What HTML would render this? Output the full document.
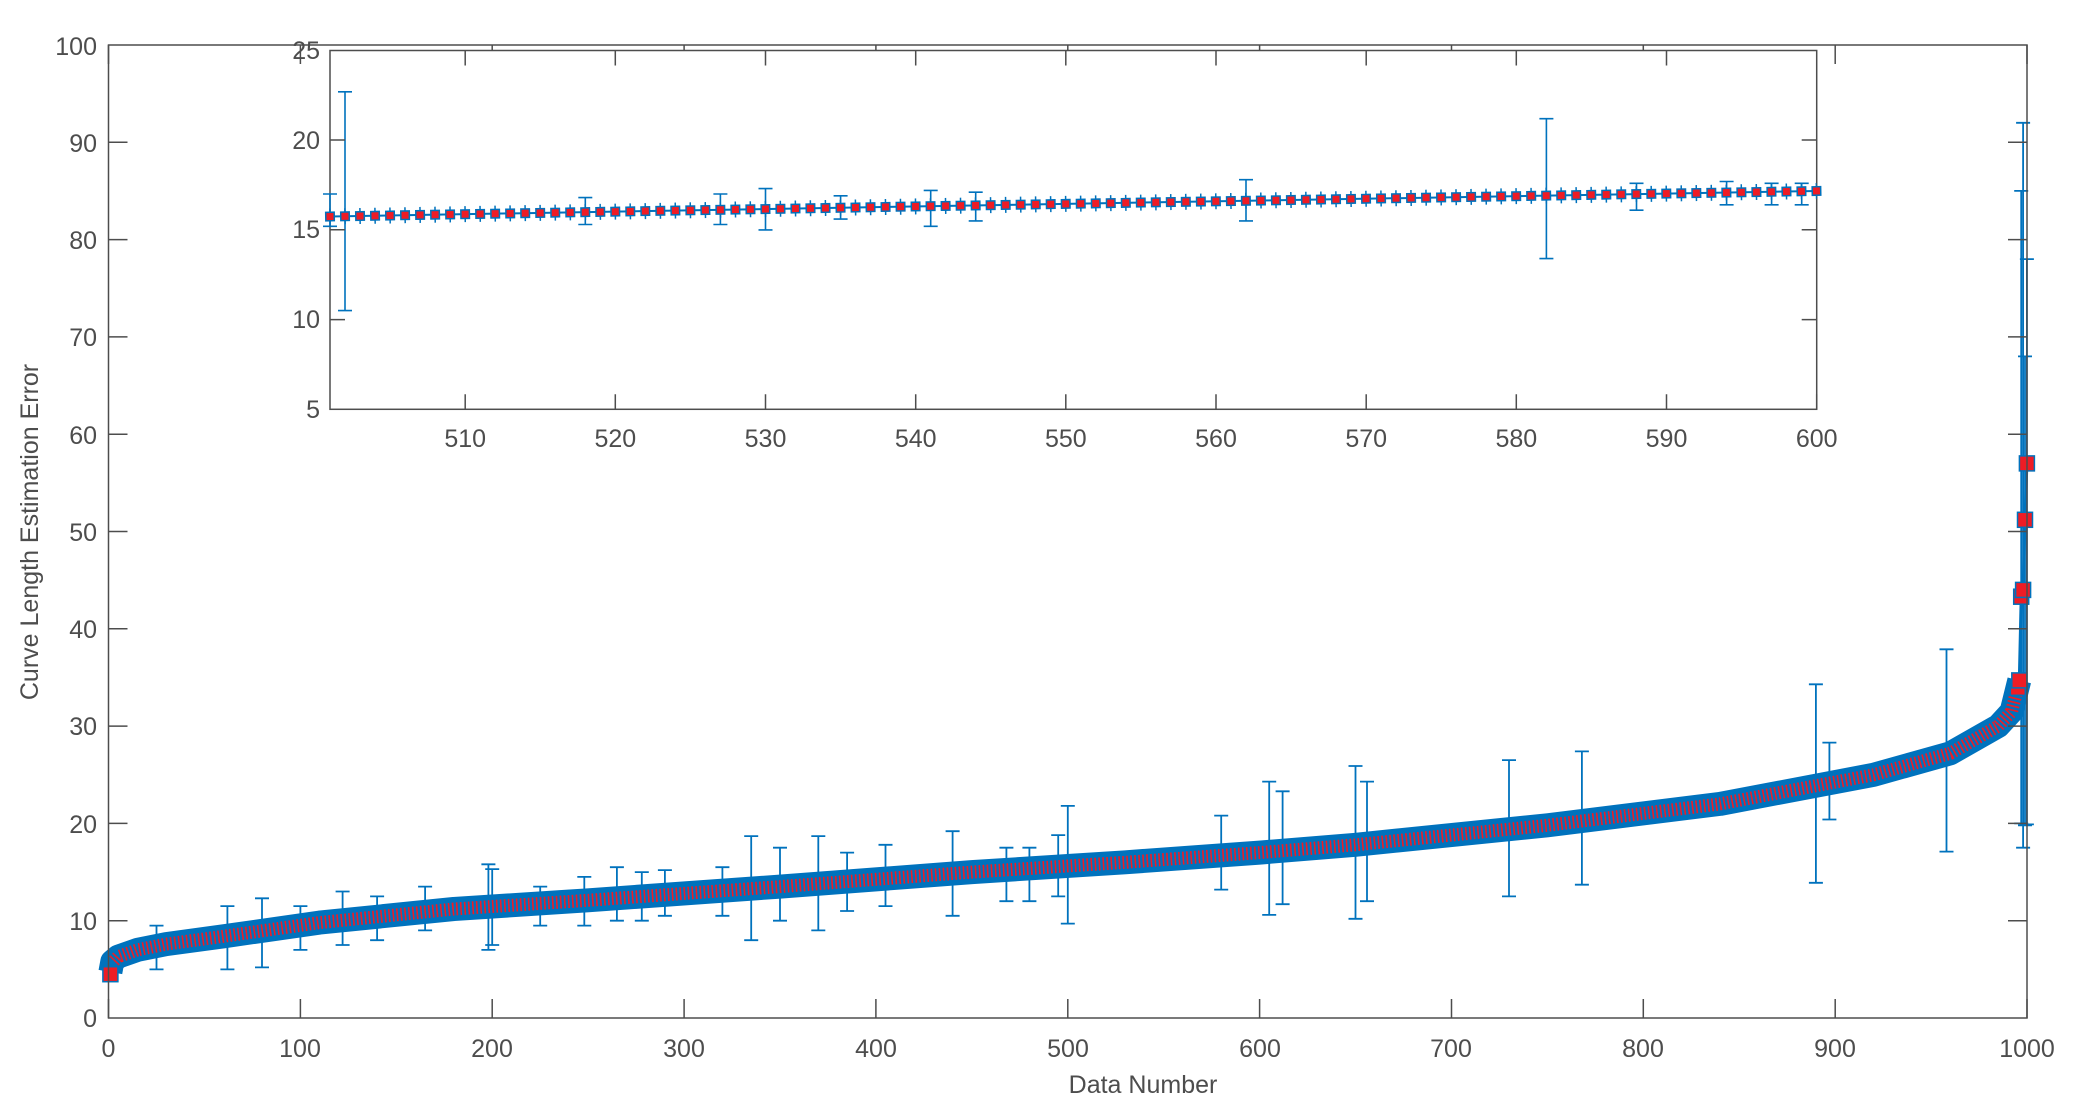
<!DOCTYPE html>
<html><head><meta charset="utf-8"><style>
html,body{margin:0;padding:0;background:#fff;}
svg{display:block;font-family:"Liberation Sans",sans-serif;}
</style></head><body>
<svg width="2075" height="1110" xmlns="http://www.w3.org/2000/svg">
<rect width="2075" height="1110" fill="#fff"/>
<path fill="none" stroke="#0072bd" stroke-width="1.8" d="
M156.5 969.4V925.6M149.5 969.4h14M149.5 925.6h14
M227.4 969.4V906.1M220.4 969.4h14M220.4 906.1h14
M262 967.4V898.3M255 967.4h14M255 898.3h14
M300.4 949.9V906.1M293.4 949.9h14M293.4 906.1h14
M342.6 945V891.5M335.6 945h14M335.6 891.5h14
M377.1 940.2V896.4M370.1 940.2h14M370.1 896.4h14
M425.1 930.4V886.6M418.1 930.4h14M418.1 886.6h14
M488.4 949.9V864.3M481.4 949.9h14M481.4 864.3h14
M492.2 945V869.1M485.2 945h14M485.2 869.1h14
M540.2 925.6V886.6M533.2 925.6h14M533.2 886.6h14
M584.3 925.6V876.9M577.3 925.6h14M577.3 876.9h14
M616.9 920.7V867.2M609.9 920.7h14M609.9 867.2h14
M641.8 920.7V872.1M634.8 920.7h14M634.8 872.1h14
M664.9 915.8V870.1M657.9 915.8h14M657.9 870.1h14
M722.4 915.8V867.2M715.4 915.8h14M715.4 867.2h14
M751.2 940.2V836.1M744.2 940.2h14M744.2 836.1h14
M780 920.7V847.7M773 920.7h14M773 847.7h14
M818.3 930.4V836.1M811.3 930.4h14M811.3 836.1h14
M847.1 911V852.6M840.1 911h14M840.1 852.6h14
M885.5 906.1V844.8M878.5 906.1h14M878.5 844.8h14
M952.6 915.8V831.2M945.6 915.8h14M945.6 831.2h14
M1006.4 901.2V847.7M999.4 901.2h14M999.4 847.7h14
M1029.4 901.2V847.7M1022.4 901.2h14M1022.4 847.7h14
M1058.2 896.4V835.1M1051.2 896.4h14M1051.2 835.1h14
M1067.8 923.6V805.9M1060.8 923.6h14M1060.8 805.9h14
M1221.2 889.6V815.6M1214.2 889.6h14M1214.2 815.6h14
M1269.2 914.9V781.6M1262.2 914.9h14M1262.2 781.6h14
M1282.6 904.2V791.3M1275.6 904.2h14M1275.6 791.3h14
M1355.5 918.8V766M1348.5 918.8h14M1348.5 766h14
M1367 901.2V781.6M1360 901.2h14M1360 781.6h14
M1509 896.4V760.1M1502 896.4h14M1502 760.1h14
M1581.9 884.7V751.4M1574.9 884.7h14M1574.9 751.4h14
M1815.9 882.8V684.3M1808.9 882.8h14M1808.9 684.3h14
M1829.4 819.5V742.6M1822.4 819.5h14M1822.4 742.6h14
M1946.5 851.6V649.3M1939.5 851.6h14M1939.5 649.3h14
M2021.2 823.4V190.9M2014.2 823.4h14M2014.2 190.9h14
M2023.1 847.7V122.8M2016.1 847.7h14M2016.1 122.8h14
M2025 825.3V356.4M2018 825.3h14M2018 356.4h14
M2026.9 824.4V259.1M2019.9 824.4h14M2019.9 259.1h14"/>
<path fill="none" stroke="#0072bd" stroke-width="24" stroke-linejoin="round" d="M110.4 972L112.3 961.6L118.1 956.7L137.3 949.9L166.1 944.1L223.6 936.3L319.5 922.6L453.8 909L588.1 900.3L780 886.6L971.8 872.1L1125.3 862.3L1259.6 852.6L1355.5 844.8L1547.4 825.3L1720 803.9L1873.5 774.8L1950.3 753.3L1998.2 726.1L2011.6 711.5L2019.3 680.4"/>
<path fill="none" stroke="#ee1c25" stroke-width="13" stroke-dasharray="1.6 2.4" d="M114 961L118.1 956.7L137.3 949.9L166.1 944.1L223.6 936.3L319.5 922.6L453.8 909L588.1 900.3L780 886.6L971.8 872.1L1125.3 862.3L1259.6 852.6L1355.5 844.8L1547.4 825.3L1720 803.9L1873.5 774.8L1950.3 753.3L1998.2 726.1L2011.6 711.5L2019.3 680.4"/>
<path fill="none" stroke="#0072bd" stroke-width="3" d="M2019.3 680.4L2021.2 596.7L2023.1 589.9L2025 519.8L2026.9 463.4"/>
<g fill="#ee1c25" stroke="#0072bd" stroke-width="1.5">
<rect x="102.9" y="966.7" width="15" height="15"/>
<rect x="2010.3" y="680.3" width="15" height="15"/>
<rect x="2011.8" y="672.9" width="15" height="15"/>
<rect x="2013.7" y="589.2" width="15" height="15"/>
<rect x="2015.6" y="582.4" width="15" height="15"/>
<rect x="2017.5" y="512.3" width="15" height="15"/>
<rect x="2019.4" y="455.9" width="15" height="15"/>
</g>
<g stroke="#4d4d4d" stroke-width="1.5" fill="none">
<rect x="108.5" y="45" width="1918.5" height="973"/>
<path d="M108.5 1018v-19M300.4 1018v-19M492.2 1018v-19M684.1 1018v-19M875.9 1018v-19M1067.8 1018v-19M1259.6 1018v-19M1451.5 1018v-19M1643.3 1018v-19M1835.2 1018v-19M2027 1018v-19
M108.5 45v19M300.4 45v19M492.2 45v19M684.1 45v19M875.9 45v19M1067.8 45v19M1259.6 45v19M1451.5 45v19M1643.3 45v19M1835.2 45v19M2027 45v19
M108.5 920.7h19M108.5 823.4h19M108.5 726.1h19M108.5 628.8h19M108.5 531.5h19M108.5 434.2h19M108.5 336.9h19M108.5 239.6h19M108.5 142.3h19
M2027 920.7h-19M2027 823.4h-19M2027 726.1h-19M2027 628.8h-19M2027 531.5h-19M2027 434.2h-19M2027 336.9h-19M2027 239.6h-19M2027 142.3h-19"/>
</g>
<g fill="#4d4d4d" font-size="25" text-anchor="end">
<text x="97" y="1027">0</text><text x="97" y="930">10</text><text x="97" y="833">20</text><text x="97" y="735">30</text><text x="97" y="638">40</text><text x="97" y="541">50</text><text x="97" y="444">60</text><text x="97" y="346">70</text><text x="97" y="249">80</text><text x="97" y="152">90</text><text x="97" y="55">100</text>
</g>
<g fill="#4d4d4d" font-size="25" text-anchor="middle">
<text x="108.5" y="1057">0</text><text x="300" y="1057">100</text><text x="492" y="1057">200</text><text x="684" y="1057">300</text><text x="876" y="1057">400</text><text x="1068" y="1057">500</text><text x="1260" y="1057">600</text><text x="1451" y="1057">700</text><text x="1643" y="1057">800</text><text x="1835" y="1057">900</text><text x="2027" y="1057">1000</text>
<text x="1143" y="1093">Data Number</text>
<text transform="translate(38,532) rotate(-90)">Curve Length Estimation Error</text>
</g>
<rect x="330" y="50.5" width="1486.7" height="358.8" fill="#fff" stroke="#4d4d4d" stroke-width="1.5"/>
<path fill="none" stroke="#0072bd" stroke-width="1.6" d="
M345 310.6V91.8M338 310.6h14M338 91.8h14
M1546.4 258.6V118.7M1539.4 258.6h14M1539.4 118.7h14
M765.5 229.9V188.6M758.5 229.9h14M758.5 188.6h14
M930.7 226.3V190.4M923.7 226.3h14M923.7 190.4h14
M975.7 220.9V192.2M968.7 220.9h14M968.7 192.2h14
M1246 220.9V179.7M1239 220.9h14M1239 179.7h14
M585.3 224.5V197.6M578.3 224.5h14M578.3 197.6h14
M720.4 224.5V194M713.4 224.5h14M713.4 194h14
M840.6 219.1V195.8M833.6 219.1h14M833.6 195.8h14
M330 226.3V194M323 226.3h14M323 194h14
M1726.6 204.8V181.5M1719.6 204.8h14M1719.6 181.5h14
M1636.5 210.2V183.3M1629.5 210.2h14M1629.5 183.3h14
M1771.6 204.8V183.3M1764.6 204.8h14M1764.6 183.3h14
M1801.7 204.8V183.3M1794.7 204.8h14M1794.7 183.3h14"/>
<path fill="none" stroke="#0072bd" stroke-width="16" stroke-dasharray="1.5 13.517" d="M329.25 216.5L1816.7 191"/>
<path fill="none" stroke="#0072bd" stroke-width="2" d="M330 216.5L1816.7 191"/>
<path fill="none" stroke="#0072bd" stroke-width="10" stroke-dasharray="10 5.017" d="M325 216.6L1822 190.9"/>
<path fill="none" stroke="#ee1c25" stroke-width="7" stroke-dasharray="7 8.017" d="M326.5 216.6L1822 190.9"/>
<path fill="none" stroke="#4d4d4d" stroke-width="1.5" d="M330 319.6h15M330 229.7h15M330 140h15M1816.7 319.6h-15M1816.7 229.7h-15M1816.7 140h-15
M465.2 409.3v-15M615.3 409.3v-15M765.5 409.3v-15M915.7 409.3v-15M1065.8 409.3v-15M1216 409.3v-15M1366.2 409.3v-15M1516.3 409.3v-15M1666.5 409.3v-15M1816.7 409.3v-15
M465.2 50.5v15M615.3 50.5v15M765.5 50.5v15M915.7 50.5v15M1065.8 50.5v15M1216 50.5v15M1366.2 50.5v15M1516.3 50.5v15M1666.5 50.5v15"/>
<g fill="#4d4d4d" font-size="25" text-anchor="end">
<text x="320" y="59">25</text><text x="320" y="149">20</text><text x="320" y="238">15</text><text x="320" y="328">10</text><text x="320" y="418">5</text>
</g>
<g fill="#4d4d4d" font-size="25" text-anchor="middle">
<text x="465.2" y="447">510</text><text x="615.3" y="447">520</text><text x="765.5" y="447">530</text><text x="915.7" y="447">540</text><text x="1065.8" y="447">550</text><text x="1216" y="447">560</text><text x="1366.2" y="447">570</text><text x="1516.3" y="447">580</text><text x="1666.5" y="447">590</text><text x="1816.7" y="447">600</text>
</g>
</svg>
</body></html>
